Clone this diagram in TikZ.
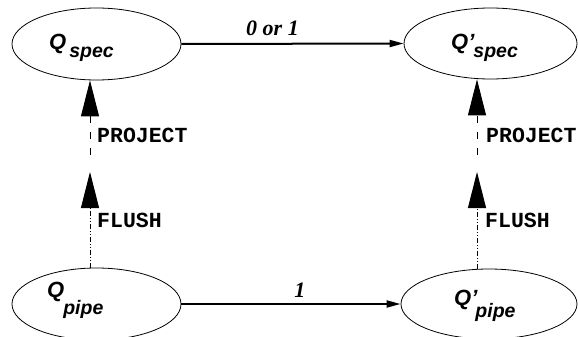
\documentclass[tikz,border=0pt]{standalone}
\usepackage{fontspec}
\setmainfont{Liberation Serif}
\setsansfont{Liberation Sans}
\setmonofont{Liberation Mono}
\usetikzlibrary{shapes.geometric,arrows.meta}
\newcommand{\subsz}{\fontsize{19.5}{19.5}\selectfont}
\begin{document}
\begin{tikzpicture}[x=1pt,y=-1pt,
  state/.style={ellipse,draw,line width=0.8pt,inner sep=0pt},
  qlab/.style={anchor=base west,inner sep=0pt,font=\sffamily\bfseries\itshape\fontsize{22}{22}\selectfont},
  elab/.style={anchor=base,inner sep=0pt,font=\rmfamily\bfseries\itshape\fontsize{22}{22}\selectfont},
  vlab/.style={anchor=base west,inner sep=0pt,font=\ttfamily\bfseries\fontsize{21.5}{21.5}\selectfont},
  trans/.style={line width=2pt,-{Triangle[length=14pt,width=7pt]}},
  bigtip/.style={-{Triangle[length=36pt,width=18pt]}},
  proj/.style={line width=1pt,dash pattern=on 7pt off 9pt,bigtip},
  flush/.style={line width=1pt,dash pattern=on 5pt off 2pt on 1pt off 2pt on 1pt off 2pt,bigtip}]
\useasboundingbox (0,0) rectangle (578,337);
% states
\node[state,minimum width=169pt,minimum height=72pt] (qs) at (96.5,44) {};
\node[state,minimum width=173pt,minimum height=71pt] (qs2) at (490.5,43.5) {};
\node[state,minimum width=169pt,minimum height=72pt] (qp) at (96.5,304) {};
\node[state,minimum width=176pt,minimum height=70pt] (qp2) at (489,304) {};
% state labels
\node[qlab] (qs-l) at (49,49) {Q\hspace{3pt}\raisebox{-8pt}{\subsz spec}};
\node[qlab] (qs2-l) at (451,49) {Q’\hspace{-1pt}\raisebox{-8pt}{\subsz spec}};
\node[qlab] (qp-l) at (47,297) {Q\hspace{-1pt}\raisebox{-17pt}{\subsz pipe}};
\node[qlab] (qp2-l) at (454,305) {Q’\hspace{-2pt}\raisebox{-12pt}{\subsz pipe}};
% horizontal transitions
\draw[trans] (qs.east) -- (qs2.west) node[elab,pos=0.41,yshift=8pt] (t1) {0 or 1};
\draw[trans] (qp.east) -- (qp2.west) node[elab,pos=0.54,yshift=7pt] (t2) {1};
% vertical arrows, left
\coordinate (pl) at (90,155);
\coordinate (fl) at (90,172);
\draw[proj] (pl) -- (pl |- qs.south);
\draw[flush] (fl |- qp.north) -- (fl);
\node[vlab] (pl-l) at (97,142) {PROJECT};
\node[vlab] (fl-l) at (97,227) {FLUSH};
% vertical arrows, right
\coordinate (pr) at (477,155);
\coordinate (fr) at (477,172);
\draw[proj] (pr) -- (pr |- qs2.south);
\draw[flush] (fr |- qp2.north) -- (fr);
\node[vlab] (pr-l) at (486,142) {PROJECT};
\node[vlab] (fr-l) at (485,227) {FLUSH};
\end{tikzpicture}
\end{document}
